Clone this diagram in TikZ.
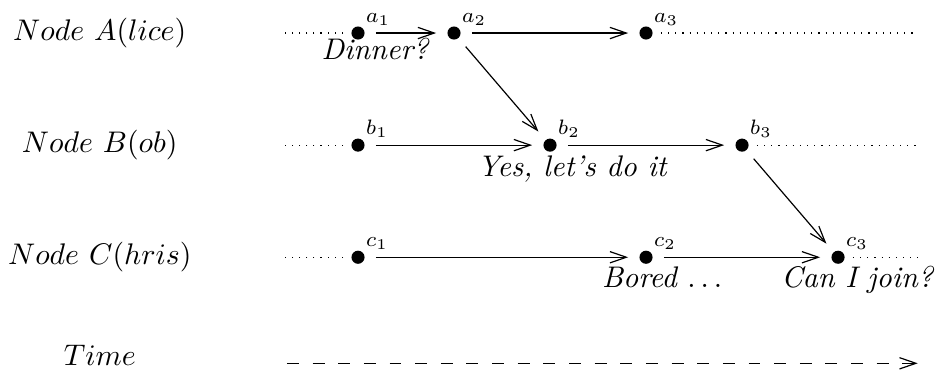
\documentclass[tikz,border=0pt]{standalone}
\usetikzlibrary{arrows.meta}
\begin{document}
\begin{tikzpicture}[x=32.2pt, y=37.6pt, >={Straight Barb[length=5.5pt, width=3.8pt]},
        event/.style={circle, fill, inner sep=0pt, minimum size=4.4pt,
            label={[inner sep=0pt, label distance=1pt]45:$\scriptstyle #1$}},
        msg/.style={->, shorten <=3.6pt, shorten >=3.6pt},
        idle/.style={dotted, shorten <=2.6pt},
        note/.style={anchor=base, font=\itshape}]
    \useasboundingbox (-3.729, 0.2946) rectangle (6.01, -3.018);

    \node (alice) at (-2.69, 0) {$Node\ A(lice)$};
    \node (bob) at (-2.69, -1) {$Node\ B(ob)$};
    \node (chris) at (-2.69, -2) {$Node\ C(hris)$};
    \node (time) at (-2.69, -2.875) {$Time$};

    \node[event=a_1] (a1) at (0, 0) {};
    \node[event=a_2] (a2) at (1, 0) {};
    \node[event=a_3] (a3) at (3, 0) {};
    \node[event=b_1] (b1) at (0, -1) {};
    \node[event=b_2] (b2) at (2, -1) {};
    \node[event=b_3] (b3) at (4, -1) {};
    \node[event=c_1] (c1) at (0, -2) {};
    \node[event=c_2] (c2) at (3, -2) {};
    \node[event=c_3] (c3) at (5, -2) {};

    \coordinate (a0) at (-0.81, 0);
    \coordinate (b0) at (-0.81, -1);
    \coordinate (c0) at (-0.81, -2);
    \coordinate (a9) at (5.83, 0);
    \coordinate (b9) at (5.83, -1);
    \coordinate (c9) at (5.83, -2);
    \coordinate (t0) at (-0.74, -2.946);
    \coordinate (t9) at (5.83, -2.946);

    \draw[idle] (a1) -- (a0);
    \draw[idle] (b1) -- (b0);
    \draw[idle] (c1) -- (c0);
    \draw[idle] (a3) -- (a9);
    \draw[idle] (b3) -- (b9);
    \draw[idle] (c3) -- (c9);

    \draw[msg] (a1) -- (a2);
    \draw[msg] (a2) -- (a3);
    \draw[msg] (a2) -- (b2);
    \draw[msg] (b1) -- (b2);
    \draw[msg] (b2) -- (b3);
    \draw[msg] (b3) -- (c3);
    \draw[msg] (c1) -- (c2);
    \draw[msg] (c2) -- (c3);

    \node[note] (dinner) at ([shift={(5.7pt,-9pt)}]a1) {Dinner?};
    \node[note] (yes) at ([shift={(7.4pt,-10.5pt)}]b2) {Yes, let's do it};
    \node[note] (bored) at ([shift={(5.4pt,-10.3pt)}]c2) {Bored $\ldots$};
    \node[note] (join) at ([shift={(6.4pt,-10.1pt)}]c3) {Can I join?};

    \draw[->, dash pattern=on 4pt off 4.6pt] (t0) -- (t9);
\end{tikzpicture}
\end{document}
